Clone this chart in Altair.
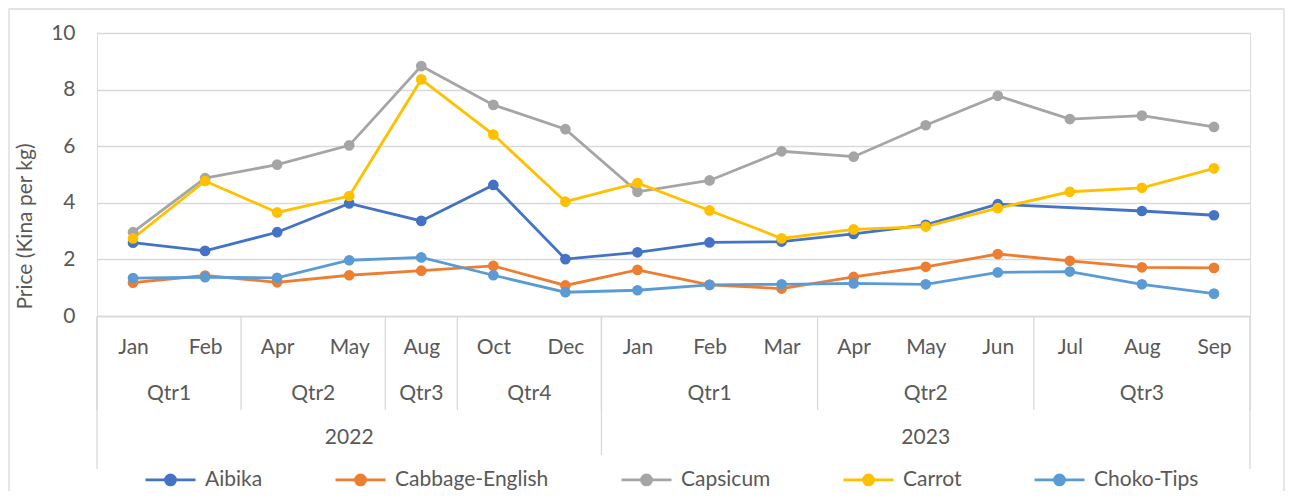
import altair as alt
import pandas as pd

# ---- data ----
years = ["2022"] * 7 + ["2023"] * 9
quarters = ["Qtr1", "Qtr1", "Qtr2", "Qtr2", "Qtr3", "Qtr4", "Qtr4",
            "Qtr1", "Qtr1", "Qtr1", "Qtr2", "Qtr2", "Qtr2", "Qtr3", "Qtr3", "Qtr3"]
months = ["Jan", "Feb", "Apr", "May", "Aug", "Oct", "Dec",
          "Jan", "Feb", "Mar", "Apr", "May", "Jun", "Jul", "Aug", "Sep"]

series_names = ["Aibika", "Cabbage-English", "Capsicum", "Carrot", "Choko-Tips"]
aibika = [2.59, 2.30, 2.96, 3.98, 3.36, 4.63, 2.01, 2.25, 2.60, 2.63, 2.90, 3.22, 3.95, None, 3.71, 3.56]
cabbage = [1.18, 1.43, 1.19, 1.44, 1.60, 1.77, 1.08, 1.63, 1.10, 0.97, 1.38, 1.74, 2.19, 1.95, 1.72, 1.70]
capsicum = [2.96, 4.87, 5.35, 6.03, 8.83, 7.46, 6.60, 4.39, 4.79, 5.82, 5.63, 6.74, 7.78, 6.96, 7.08, 6.68]
carrot = [2.74, 4.77, 3.66, 4.24, 8.36, 6.41, 4.04, 4.70, 3.73, 2.74, 3.06, 3.16, 3.81, 4.39, 4.53, 5.22]
choko = [1.34, 1.37, 1.35, 1.97, 2.07, 1.44, 0.84, 0.91, 1.10, 1.12, 1.15, 1.12, 1.54, 1.57, 1.12, 0.79]
colors = ["#4472C4", "#ED7D31", "#A5A5A5", "#FFC000", "#5B9BD5"]

# ---- tables ----
rows = []
for name, vals in zip(series_names, [aibika, cabbage, capsicum, carrot, choko]):
    for i, v in enumerate(vals):
        rows.append({"idx": i, "series": name, "price": v})
df = pd.DataFrame(rows)

cat = pd.DataFrame({"idx": range(len(months)), "year": years, "quarter": quarters, "month": months})
cat["qkey"] = cat["year"] + "-" + cat["quarter"]
qgrp = cat.groupby("qkey", sort=False).agg(quarter=("quarter", "first"), lo=("idx", "min"), hi=("idx", "max")).reset_index()
qgrp["center"] = (qgrp["lo"] + qgrp["hi"]) / 2
ygrp = cat.groupby("year", sort=False).agg(lo=("idx", "min"), hi=("idx", "max")).reset_index()
ygrp["center"] = (ygrp["lo"] + ygrp["hi"]) / 2

n = len(months)
qbounds = pd.DataFrame({"b": sorted(set(list(qgrp["lo"] - 0.5) + list(qgrp["hi"] + 0.5)))})
outer_bounds = pd.DataFrame({"b": [-0.5, n - 0.5]})
year_inner = pd.DataFrame({"b": list(ygrp["lo"].iloc[1:] - 0.5)})

W, H = 1153, 283
FONT = "Lato"
FS = 21
TXT = "#595959"
GRID = "#D9D9D9"

xscale = alt.Scale(domain=[-0.5, n - 0.5], nice=False, zero=False)
month_expr = "[" + ",".join("'%s'" % m for m in months) + "][datum.value]"

x_enc = alt.X("idx:Q", scale=xscale,
              axis=alt.Axis(values=list(range(n)), labelExpr=month_expr, grid=False, ticks=False,
                            tickSize=0, domain=True, domainColor=GRID, domainWidth=1.3,
                            labelPadding=31, labelBaseline="middle", labelFont=FONT,
                            labelFontSize=FS, labelColor=TXT, title=None, labelFlush=False,
                            labelOverlap=False))
y_enc = alt.Y("price:Q", scale=alt.Scale(domain=[0, 10], nice=False),
              axis=alt.Axis(values=[0, 2, 4, 6, 8, 10], grid=True, gridColor=GRID, gridWidth=1.3,
                            domain=False, ticks=False, labelPadding=22, labelFont=FONT,
                            labelFontSize=FS, labelColor=TXT,
                            title="Price (Kina per kg)", titleFont=FONT, titleFontSize=FS,
                            titleFontWeight="normal", titleColor=TXT, titleX=-72, titleY=193,
                            titleAngle=270, titleAlign="center", titleBaseline="middle"))

color_scale = alt.Scale(domain=series_names, range=colors)

# legend glyph: a line with a dot made of concentric rings (works with stroke only)
legend_path = ("M-1,0H1"
               "M-0.2,0a0.2,0.2 0 1,0 0.4,0a0.2,0.2 0 1,0 -0.4,0"
               "M-0.14,0a0.14,0.14 0 1,0 0.28,0a0.14,0.14 0 1,0 -0.28,0"
               "M-0.08,0a0.08,0.08 0 1,0 0.16,0a0.08,0.08 0 1,0 -0.16,0"
               "M-0.03,0a0.03,0.03 0 1,0 0.06,0a0.03,0.03 0 1,0 -0.06,0")

base = alt.Chart(df).transform_filter("isValid(datum.price)")

lines = base.mark_line(strokeWidth=2.8).encode(
    x=x_enc, y=y_enc,
    color=alt.Color("series:N", scale=color_scale,
                    legend=alt.Legend(
                        title=None, orient="none", direction="horizontal",
                        legendX=47, legendY=420, columns=5,
                        symbolType=legend_path,
                        symbolSize=2500, symbolStrokeWidth=2.8, symbolOpacity=1,
                        labelFont=FONT, labelFontSize=FS, labelColor=TXT, labelOffset=8,
                        columnPadding=66, labelLimit=400)),
    detail="series:N",
)
points = base.mark_circle(size=115, opacity=1).encode(
    x=alt.X("idx:Q", scale=xscale),
    y=alt.Y("price:Q"),
    color=alt.Color("series:N", scale=color_scale, legend=None),
)

# hierarchical category axis pieces
qsep = alt.Chart(qbounds).mark_rule(color=GRID, strokeWidth=1.3).encode(
    x=alt.X("b:Q", scale=xscale), y=alt.value(H), y2=alt.value(H + 94))
ysep_in = alt.Chart(year_inner).mark_rule(color=GRID, strokeWidth=1.3).encode(
    x=alt.X("b:Q", scale=xscale), y=alt.value(H), y2=alt.value(H + 139))
ysep_out = alt.Chart(outer_bounds).mark_rule(color=GRID, strokeWidth=1.3).encode(
    x=alt.X("b:Q", scale=xscale), y=alt.value(H), y2=alt.value(H + 153))
qlabels = alt.Chart(qgrp).mark_text(font=FONT, fontSize=FS, color=TXT, baseline="middle").encode(
    x=alt.X("center:Q", scale=xscale), y=alt.value(H + 78), text="quarter:N")
ylabels = alt.Chart(ygrp).mark_text(font=FONT, fontSize=FS, color=TXT, baseline="middle").encode(
    x=alt.X("center:Q", scale=xscale), y=alt.value(H + 122), text="year:N")

border = alt.Chart(pd.DataFrame({"k": [0]})).mark_rect(fill=None, stroke=GRID, strokeWidth=1.3).encode(
    x=alt.value(-88), x2=alt.value(W + 34), y=alt.value(-24), y2=alt.value(H + 200))

chart = alt.layer(border, qsep, ysep_in, ysep_out, qlabels, ylabels, lines, points).properties(
    width=W, height=H,
    padding={"left": 89, "top": 25, "right": 35, "bottom": 175},
    autosize="none",
).configure_view(stroke=None).configure(background="white")

chart.save("out.html", embed_options={"renderer": "svg", "actions": False})
